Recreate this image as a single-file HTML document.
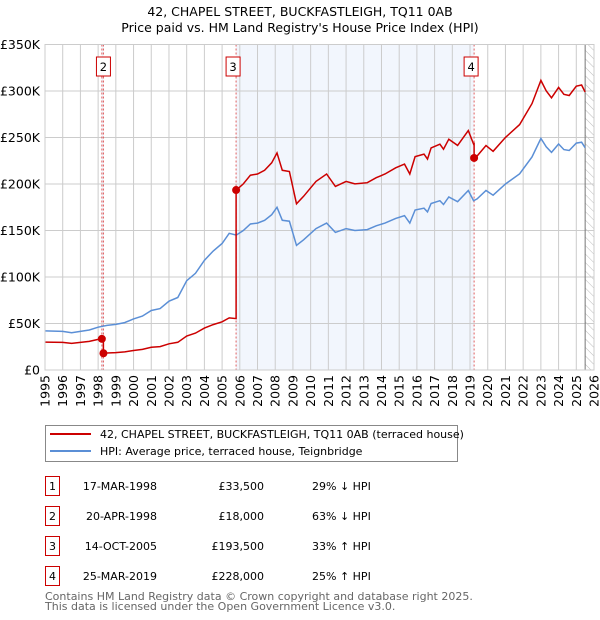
<!DOCTYPE html>
<html><head><meta charset="utf-8"><style>
body{margin:0;background:#fff;font-family:"DejaVu Sans","Liberation Sans",sans-serif;}
#wrap{position:relative;width:600px;height:620px;}
svg{position:absolute;left:0;top:0;}
</style></head><body>
<div id="wrap">
<svg id="chart" width="600" height="620"></svg>
</div>
<script>
const hpiYears=[1995,1996,1996.5,1997,1997.5,1998,1998.5,1999,1999.5,2000,2000.5,2001,2001.5,2002,2002.5,2003,2003.5,2004,2004.5,2005,2005.4,2005.8,2006.2,2006.6,2007,2007.4,2007.8,2008.1,2008.4,2008.8,2009.2,2009.6,2010.3,2010.9,2011.4,2012,2012.5,2013.2,2013.7,2014.2,2014.8,2015.3,2015.6,2015.9,2016.4,2016.6,2016.8,2017.3,2017.5,2017.8,2018.3,2018.9,2019.2,2019.4,2019.9,2020.3,2021,2021.8,2022.5,2023,2023.3,2023.6,2024,2024.3,2024.6,2025,2025.3,2025.5];
const hpiValues=[42,41.5,40,41.5,43,46,48,49,51,55,58,64,66,74,78,96,104,118,128,136,147,145,150,157,158,161,167,175,161,160,134,140,152,158,148,152,150,151,155,158,163,166,158,172,174,170,179,182,178,186,181,193,182,184,193,188,200,211,229,249,240,234,243,237,236,244,245,239];
const saleLabels=["1","2","3","4"];
const saleYears=[1998.21,1998.30,2005.79,2019.23];
const salePrices=[33.5,18,193.5,228];
const saleDates=["17-MAR-1998","20-APR-1998","14-OCT-2005","25-MAR-2019"];
const salePriceText=["£33,500","£18,000","£193,500","£228,000"];
const salePct=["29% ↓ HPI","63% ↓ HPI","33% ↑ HPI","25% ↑ HPI"];
const yTicks=[0,50,100,150,200,250,300,350];
const yTickLabels=["£0","£50K","£100K","£150K","£200K","£250K","£300K","£350K"];

const X0=45,X1=594,Y0=370,Y1=44.5,YMIN=1995,YMAX=2026;
const xs=y=>X0+(y-YMIN)/(YMAX-YMIN)*(X1-X0);
const ys=v=>Y0-v/350*(Y0-Y1);
const NS="http://www.w3.org/2000/svg";
const svg=document.getElementById('chart');
function mk(tag,attrs,parent){const e=document.createElementNS(NS,tag);for(const k in attrs)e.setAttribute(k,attrs[k]);(parent||svg).appendChild(e);return e;}
function hpiAt(y){for(let i=0;i<hpiYears.length-1;i++){if(y<=hpiYears[i+1]){const t=(y-hpiYears[i])/(hpiYears[i+1]-hpiYears[i]);return hpiValues[i]+t*(hpiValues[i+1]-hpiValues[i]);}}return hpiValues[hpiValues.length-1];}

let t=mk('text',{x:300,y:16,'text-anchor':'middle','font-size':'12.5'});t.textContent="42, CHAPEL STREET, BUCKFASTLEIGH, TQ11 0AB";

t=mk('text',{x:300,y:32,'text-anchor':'middle','font-size':'12.5'});t.textContent="Price paid vs. HM Land Registry's House Price Index (HPI)";


let band=mk('rect',{x:xs(saleYears[2]),y:Y1,width:xs(saleYears[3])-xs(saleYears[2]),height:Y0-Y1,fill:'#eef3fc',opacity:0.75});

let band0=mk('rect',{x:xs(saleYears[0]),y:Y1,width:xs(saleYears[1])-xs(saleYears[0]),height:Y0-Y1,fill:'#eef3fc'});

const defs=mk('defs',{});
const pat=mk('pattern',{id:'hatch',width:6,height:6,patternUnits:'userSpaceOnUse',patternTransform:'rotate(-45)'},defs);
mk('line',{x1:0,y1:0,x2:0,y2:6,stroke:'#bbb','stroke-width':1},pat);
let hz=mk('rect',{x:xs(2025.5),y:Y1,width:X1-xs(2025.5),height:Y0-Y1,fill:'url(#hatch)'});


const grid=mk('g',{stroke:'#cccccc','stroke-width':1});

for(let y=1995;y<=2026;y++){mk('line',{x1:xs(y),x2:xs(y),y1:Y1,y2:Y0},grid);}
yTicks.forEach(v=>mk('line',{x1:X0,x2:X1,y1:ys(v),y2:ys(v)},grid));
let vl=mk('line',{x1:xs(2025.5),x2:xs(2025.5),y1:Y1,y2:Y0,stroke:'#777','stroke-width':1});


yTicks.forEach((v,i)=>{const e=mk('text',{x:40,y:ys(v)+4.5,'text-anchor':'end','font-size':'12.5'});e.textContent=yTickLabels[i];
});
for(let y=1995;y<=2026;y++){const e=mk('text',{x:0,y:0,'text-anchor':'end','font-size':'12.5',transform:`translate(${xs(y)+4.5},375) rotate(-90)`});e.textContent=y;
}

saleYears.forEach((sy,i)=>{
 const l=mk('line',{x1:xs(sy),x2:xs(sy),y1:Y1,y2:Y0,stroke:'#e06060','stroke-width':1,'stroke-dasharray':'2,2'});
 
});
saleYears.forEach((sy,i)=>{
 if(i===0)return;
 const bx=xs(sy)+(i===1?0:-3);
 const g=mk('g',{});
 
 mk('rect',{x:bx-7,y:57,width:14,height:19,fill:'#fff',stroke:'#cc0000','stroke-width':1},g);
 const e=mk('text',{x:bx,y:71,'text-anchor':'middle','font-size':'11.5'},g);e.textContent=saleLabels[i];
});

let d='';hpiYears.forEach((y,i)=>{d+=(i?'L':'M')+xs(y).toFixed(1)+','+ys(hpiValues[i]).toFixed(1);});
let hp=mk('path',{d:d,fill:'none',stroke:'#5b8fd6','stroke-width':1.5});


function segYears(a,b){const r=[a];hpiYears.forEach(y=>{if(y>a&&y<b)r.push(y);});r.push(b);return r;}
let rd='';
const bounds=[YMIN,saleYears[0],saleYears[1],saleYears[2],saleYears[3],2025.5];
const anchor=[0,0,1,2,3];
for(let s=0;s<5;s++){
 const k=anchor[s];const ratio=salePrices[k]/hpiAt(saleYears[k]);
 segYears(bounds[s],bounds[s+1]).forEach((y,j)=>{rd+=((rd===''?'M':'L'))+xs(y).toFixed(1)+','+ys(hpiAt(y)*ratio).toFixed(1);});
}
let rp=mk('path',{d:rd,fill:'none',stroke:'#cc0000','stroke-width':1.5});

saleYears.forEach((sy,i)=>{const c=mk('circle',{cx:xs(sy),cy:ys(salePrices[i]),r:4,fill:'#cc0000'});
});

let fr=mk('rect',{x:X0,y:Y1,width:X1-X0,height:Y0-Y1,fill:'none',stroke:'#cccccc'});


const lg=mk('g',{});
mk('rect',{x:45.5,y:425.5,width:412,height:36,fill:'#fff',stroke:'#888'},lg);
mk('line',{x1:50,x2:91,y1:434,y2:434,stroke:'#cc0000','stroke-width':2},lg);
mk('line',{x1:50,x2:91,y1:451,y2:451,stroke:'#5b8fd6','stroke-width':2},lg);
t=mk('text',{x:100,y:438,'font-size':'11'},lg);t.textContent="42, CHAPEL STREET, BUCKFASTLEIGH, TQ11 0AB (terraced house)";

t=mk('text',{x:100,y:455,'font-size':'11'},lg);t.textContent="HPI: Average price, terraced house, Teignbridge";


saleLabels.forEach((lab,i)=>{
 const y=476+i*30;
 const g=mk('g',{});
 mk('rect',{x:45.5,y:y+0.5,width:14,height:19,fill:'#fff',stroke:'#cc0000'},g);
 let e=mk('text',{x:52.5,y:y+14,'text-anchor':'middle','font-size':'11'},g);e.textContent=lab;
 e=mk('text',{x:157,y:y+14,'text-anchor':'end','font-size':'11'},g);e.textContent=saleDates[i];
 e=mk('text',{x:264,y:y+14,'text-anchor':'end','font-size':'11'},g);e.textContent=salePriceText[i];
 e=mk('text',{x:312,y:y+14,'font-size':'11'},g);e.textContent=salePct[i];
});
t=mk('text',{x:45,y:600,'font-size':'11',fill:'#666'});t.textContent="Contains HM Land Registry data © Crown copyright and database right 2025.";

t=mk('text',{x:45,y:610,'font-size':'11',fill:'#666'});t.textContent="This data is licensed under the Open Government Licence v3.0.";

</script>
</body></html>
